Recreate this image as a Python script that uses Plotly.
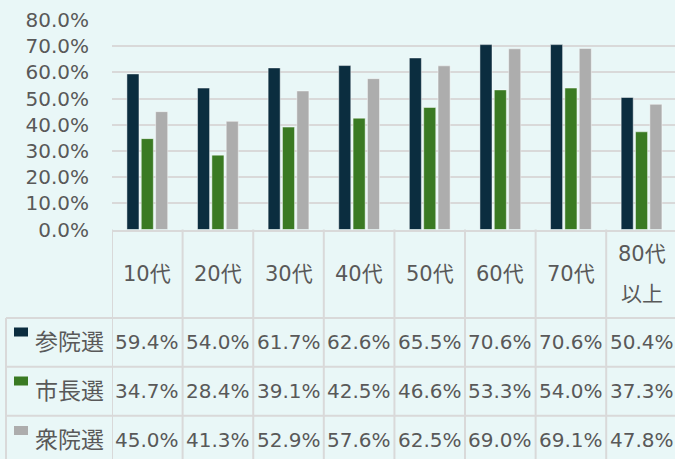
import plotly.graph_objects as go

# ---- data ----
categories = ["10代", "20代", "30代", "40代", "50代", "60代", "70代", "80代\n以上"]
series_names = ["参院選", "市長選", "衆院選"]
sangiin = [59.4, 54.0, 61.7, 62.6, 65.5, 70.6, 70.6, 50.4]
shicho = [34.7, 28.4, 39.1, 42.5, 46.6, 53.3, 54.0, 37.3]
shugiin = [45.0, 41.3, 52.9, 57.6, 62.5, 69.0, 69.1, 47.8]
y_ticks = [0, 10, 20, 30, 40, 50, 60, 70, 80]

series_values = [sangiin, shicho, shugiin]
colors = ["#0b2d3f", "#3a7a23", "#adadad"]

# ---- layout constants ----
W, H = 675, 459
T, B, L, R = 20, 0, 112, 0
AXIS_PX = 229.5          # pixel y of 0% line
FONT = "DejaVu Sans, Noto Sans CJK JP, sans-serif"
CJK = "Noto Sans CJK JP, sans-serif"
TXT = "#595959"
GRID = "#d9d9d9"
BG = "#e9f7f7"
FS = 20

def py(p):
    return (H - B - p) / (H - T - B)

def px(p):
    return (p - L) / (W - L - R)

xidx = list(range(len(categories)))

fig = go.Figure()
for name, vals, col in zip(series_names, series_values, colors):
    fig.add_trace(go.Bar(
        x=xidx, y=[v / 100 for v in vals], name=name,
        marker=dict(color=col, line=dict(color="rgba(255,255,255,0.45)", width=1)),
        hoverinfo="skip",
    ))

shapes = []
annotations = []

# vertical table lines at category boundaries (through the axis scale)
for k in range(len(categories) + 1):
    shapes.append(dict(type="line", xref="x", yref="paper",
                       x0=k - 0.5, x1=k - 0.5, y0=py(AXIS_PX), y1=py(H + 10),
                       line=dict(color=GRID, width=2), layer="below"))
# left edge of legend column
shapes.append(dict(type="line", xref="paper", yref="paper",
                   x0=px(6), x1=px(6), y0=py(318), y1=py(H + 10),
                   line=dict(color=GRID, width=2)))
# horizontal row lines
row_tops = [318, 366.7, 415.8]
for rt in row_tops:
    shapes.append(dict(type="line", xref="paper", yref="paper",
                       x0=px(6), x1=1.02, y0=py(rt), y1=py(rt),
                       line=dict(color=GRID, width=2)))

# header: category labels
header_center = 273.5
for i, cat in enumerate(categories):
    lines = cat.split("\n")
    n = len(lines)
    for j, ln in enumerate(lines):
        yc = header_center + (j - (n - 1) / 2) * 40
        annotations.append(dict(x=i, y=py(yc), xref="x", yref="paper", text=ln,
                                showarrow=False, font=dict(size=FS + 1, color=TXT, family=FONT),
                                xanchor="center", yanchor="middle"))

# table rows
row_centers = [341.5, 390.5, 440]
for r, (name, vals, col) in enumerate(zip(series_names, series_values, colors)):
    yc = row_centers[r]
    shapes.append(dict(type="rect", xref="paper", yref="paper",
                       x0=px(14), x1=px(28), y0=py(yc - 5), y1=py(yc - 19 + 5),
                       fillcolor=col, line=dict(width=0)))
    annotations.append(dict(x=px(33), y=py(yc - 2), xref="paper", yref="paper", text=name,
                            showarrow=False, font=dict(size=23, color=TXT, family=CJK),
                            xanchor="left", yanchor="middle"))
    for i, v in enumerate(vals):
        annotations.append(dict(x=i, y=py(yc), xref="x", yref="paper", text=f"{v:.1f}%",
                                showarrow=False, font=dict(size=FS, color=TXT, family=FONT),
                                xanchor="center", yanchor="middle"))

fig.update_layout(
    width=W, height=H,
    margin=dict(l=L, r=R, t=T, b=B, autoexpand=False),
    paper_bgcolor=BG, plot_bgcolor=BG,
    barmode="group", bargap=0.39, bargroupgap=0.16,
    showlegend=False,
    font=dict(family=FONT, size=FS, color=TXT),
    xaxis=dict(range=[-0.5, len(categories) - 0.526], showticklabels=False,
               showgrid=False, zeroline=False, showline=True, linecolor=GRID,
               linewidth=2, ticks="", fixedrange=True),
    yaxis=dict(domain=[py(AXIS_PX), 1], range=[0, 0.8],
               tickvals=[t / 100 for t in y_ticks], tickformat=".1%",
               showgrid=True, gridcolor=GRID, gridwidth=2, zeroline=False,
               showline=False, ticks="", ticklabelstandoff=22,
               tickfont=dict(size=FS, color=TXT, family=FONT), fixedrange=True),
    shapes=shapes, annotations=annotations,
)

fig.write_html(
    "out.html",
    config={"displayModeBar": False},
    post_script="document.body.style.margin='0';document.body.style.overflow='hidden';"
                "document.documentElement.style.overflow='hidden';",
)
